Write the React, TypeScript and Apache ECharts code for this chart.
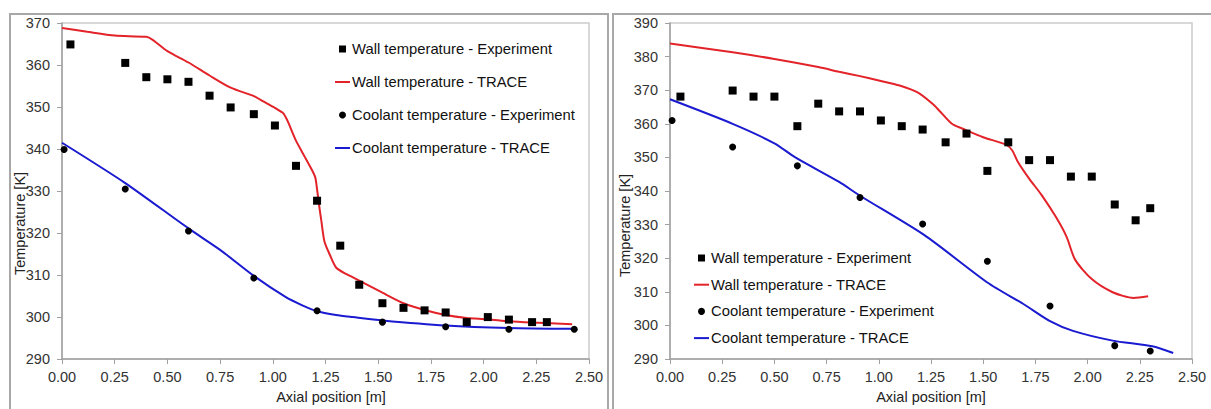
import React, { useEffect, useRef } from "react";
import * as echarts from "echarts";

// ---------- Left chart data ----------
const wallExpX1 = [0.04, 0.3, 0.4, 0.5, 0.6, 0.7, 0.8, 0.91, 1.01, 1.11, 1.21, 1.32, 1.41, 1.52, 1.62, 1.72, 1.82, 1.92, 2.02, 2.12, 2.23, 2.3];
const wallExpY1 = [364.9, 360.5, 357.1, 356.6, 356.0, 352.7, 349.9, 348.3, 345.6, 336.0, 327.7, 317.0, 307.7, 303.3, 302.2, 301.6, 301.1, 298.8, 300.0, 299.4, 298.8, 298.8];
const coolExpX1 = [0.01, 0.3, 0.6, 0.91, 1.21, 1.52, 1.82, 2.12, 2.43];
const coolExpY1 = [339.9, 330.5, 320.5, 309.3, 301.5, 298.8, 297.7, 297.1, 297.1];
const wallTraceX1 = [0, 0.12, 0.25, 0.4, 0.43, 0.5, 0.6, 0.7, 0.8, 0.91, 0.96, 1.01, 1.05, 1.07, 1.11, 1.16, 1.2, 1.21, 1.22, 1.23, 1.245, 1.27, 1.3, 1.35, 1.41, 1.52, 1.62, 1.72, 1.82, 1.92, 2.02, 2.12, 2.23, 2.42];
const wallTraceY1 = [368.8, 367.9, 367.0, 366.7, 366.0, 363.3, 360.6, 357.5, 354.6, 352.6, 351.2, 349.8, 348.5, 346.7, 342.0, 337.4, 333.5, 330.4, 326.5, 323.0, 318.0, 314.9, 311.8, 310.2, 308.7, 305.8, 303.3, 301.7, 300.5, 299.8, 299.5, 299.0, 298.7, 298.3];
const coolTraceX1 = [0, 0.3, 0.6, 0.75, 0.91, 1.06, 1.14, 1.21, 1.3, 1.38, 1.52, 1.82, 2.12, 2.42];
const coolTraceY1 = [341.5, 331.9, 321.1, 316.0, 309.8, 304.8, 302.8, 301.4, 300.5, 300.0, 299.2, 298.0, 297.4, 297.2];

// ---------- Right chart data ----------
const wallExpX2 = [0.05, 0.3, 0.4, 0.5, 0.61, 0.71, 0.81, 0.91, 1.01, 1.11, 1.21, 1.32, 1.42, 1.52, 1.62, 1.72, 1.82, 1.92, 2.02, 2.13, 2.23, 2.3];
const wallExpY2 = [368.1, 369.9, 368.1, 368.1, 359.3, 366.0, 363.7, 363.7, 361.0, 359.3, 358.3, 354.5, 357.1, 346.0, 354.5, 349.2, 349.2, 344.3, 344.3, 336.0, 331.3, 334.9];
const coolExpX2 = [0.01, 0.3, 0.61, 0.91, 1.21, 1.52, 1.82, 2.13, 2.3];
const coolExpY2 = [361.0, 353.1, 347.5, 338.1, 330.2, 319.1, 305.8, 294.0, 292.4];
const wallTraceX2 = [0, 0.3, 0.5, 0.71, 0.81, 0.91, 1.0, 1.1, 1.19, 1.26, 1.29, 1.35, 1.4, 1.5, 1.61, 1.64, 1.665, 1.72, 1.78, 1.85, 1.9, 1.94, 2.02, 2.12, 2.22, 2.29];
const wallTraceY2 = [383.9, 381.3, 379.3, 376.9, 375.5, 374.2, 372.9, 371.4, 369.2, 365.8, 363.9, 360.0, 358.6, 356.0, 353.8, 352.0, 348.8, 343.7, 338.8, 332.1, 326.3, 319.6, 313.8, 309.9, 308.2, 308.7];
const coolTraceX2 = [0, 0.3, 0.5, 0.6, 0.81, 0.91, 1.22, 1.52, 1.7, 1.82, 1.93, 2.12, 2.31, 2.41];
const coolTraceY2 = [367.3, 360.0, 354.2, 350.0, 342.7, 338.6, 326.8, 312.8, 306.1, 301.3, 298.4, 295.5, 293.8, 291.8];

const xTicks = { min: 0, max: 2.5, interval: 0.25 };
const yRange1 = { min: 290, max: 370, interval: 10 };
const yRange2 = { min: 290, max: 390, interval: 10 };

const NAMES = [
  "Wall temperature - Experiment",
  "Wall temperature - TRACE",
  "Coolant temperature - Experiment",
  "Coolant temperature - TRACE",
];

const zip = (xs: number[], ys: number[]) => xs.map((x, i) => [x, ys[i]]);

const RED = "#e3232a";
const BLUE = "#1a1ad0";
const FONT = "Liberation Sans, Arial, sans-serif";
const FS = 14.5;

function makeX(gridIndex: number, nameGap: number, pad: number[]) {
  return {
    gridIndex,
    type: "value",
    ...xTicks,
    name: "Axial position [m]",
    nameLocation: "middle",
    nameGap,
    nameTextStyle: { fontSize: FS, color: "#222", fontFamily: FONT, padding: pad },
    axisLine: { show: true, lineStyle: { color: "#a0a0a0", width: 1.5 } },
    axisTick: { show: true, length: 5, lineStyle: { color: "#a0a0a0" } },
    axisLabel: { fontSize: FS, color: "#333", margin: 10, fontFamily: FONT, formatter: (v: number) => v.toFixed(2) },
    splitLine: { show: false },
  };
}

function makeY(gridIndex: number, r: { min: number; max: number; interval: number }) {
  return {
    gridIndex,
    type: "value",
    ...r,
    axisLine: { show: true, lineStyle: { color: "#a0a0a0", width: 1.5 } },
    axisTick: { show: true, length: 5, lineStyle: { color: "#a0a0a0" } },
    axisLabel: { fontSize: FS, color: "#333", margin: 12, fontFamily: FONT },
    splitLine: { show: false },
  };
}

function makeSeries(idx: number, wx: number[], wy: number[], wtx: number[], wty: number[], cx: number[], cy: number[], ctx: number[], cty: number[]) {
  const common = { xAxisIndex: idx, yAxisIndex: idx };
  return [
    { ...common, type: "line", name: NAMES[1], data: zip(wtx, wty), symbol: "none", showSymbol: false, smooth: 0.25, lineStyle: { color: RED, width: 2 }, itemStyle: { color: RED }, z: 2 },
    { ...common, type: "line", name: NAMES[3], data: zip(ctx, cty), symbol: "none", showSymbol: false, smooth: 0.25, lineStyle: { color: BLUE, width: 2 }, itemStyle: { color: BLUE }, z: 2 },
    { ...common, type: "scatter", name: NAMES[0], data: zip(wx, wy), symbol: "rect", symbolSize: 8, itemStyle: { color: "#000", opacity: 1 }, z: 3 },
    { ...common, type: "scatter", name: NAMES[2], data: zip(cx, cy), symbol: "circle", symbolSize: 7, itemStyle: { color: "#000", opacity: 1 }, z: 3 },
  ];
}

function makeLegend(left: number, top: number, itemGap: number) {
  return {
    orient: "vertical",
    left,
    top,
    padding: 0,
    itemWidth: 15,
    itemHeight: 7,
    itemGap,
    selectedMode: false,
    textStyle: { fontSize: 14.8, color: "#111", fontFamily: FONT, lineHeight: 16, padding: [0, 0, 0, -3] },
    data: [
      { name: NAMES[0], icon: "path://M0,0H10V10H0Z", itemStyle: { color: "#000", opacity: 1 } },
      { name: NAMES[1], icon: "path://M0,0H15V2H0Z", itemStyle: { color: RED } },
      { name: NAMES[2], icon: "circle", itemStyle: { color: "#000", opacity: 1 } },
      { name: NAMES[3], icon: "path://M0,0H15V2H0Z", itemStyle: { color: BLUE } },
    ],
  };
}

export default function App() {
  const ref = useRef<HTMLDivElement>(null);
  useEffect(() => {
    if (!ref.current) return;
    const chart = echarts.init(ref.current, undefined, { renderer: "svg" });
    const option = {
      animation: false,
      backgroundColor: "#ffffff",
      textStyle: { fontFamily: FONT },
      graphic: [
        { type: "rect", shape: { x: 10, y: 14, width: 598, height: 420 }, style: { fill: "none", stroke: "#a8a8a8", lineWidth: 2 }, silent: true },
        { type: "rect", shape: { x: 613, y: 14, width: 640, height: 420 }, style: { fill: "none", stroke: "#a8a8a8", lineWidth: 2 }, silent: true },
        { type: "text", x: 20, y: 223.5, rotation: Math.PI / 2, z: 10, style: { text: "Temperature [K]", fontSize: FS, fill: "#222", fontFamily: FONT, align: "center", verticalAlign: "middle" } },
        { type: "text", x: 625, y: 225.5, rotation: Math.PI / 2, z: 10, style: { text: "Temperature [K]", fontSize: FS, fill: "#222", fontFamily: FONT, align: "center", verticalAlign: "middle" } },
      ],
      grid: [
        { left: 62, top: 23, width: 527, height: 344, show: true, borderColor: "#cccccc", borderWidth: 1.5, backgroundColor: "transparent" },
        { left: 670, top: 23, width: 522, height: 347, show: true, borderColor: "#cccccc", borderWidth: 1.5, backgroundColor: "transparent" },
      ],
      xAxis: [makeX(0, 22, [0, 0, 0, 11]), makeX(1, 23, [0, 0, 0, 0])],
      yAxis: [makeY(0, yRange1), makeY(1, yRange2)],
      legend: [makeLegend(335, 41, 17), makeLegend(694, 250, 10.7)],
      series: [
        ...makeSeries(0, wallExpX1, wallExpY1, wallTraceX1, wallTraceY1, coolExpX1, coolExpY1, coolTraceX1, coolTraceY1),
        ...makeSeries(1, wallExpX2, wallExpY2, wallTraceX2, wallTraceY2, coolExpX2, coolExpY2, coolTraceX2, coolTraceY2),
      ],
    };
    chart.setOption(option as any);
    return () => chart.dispose();
  }, []);
  return <div ref={ref} style={{ position: "absolute", left: 0, top: 0, width: 1211, height: 409 }} />;
}
